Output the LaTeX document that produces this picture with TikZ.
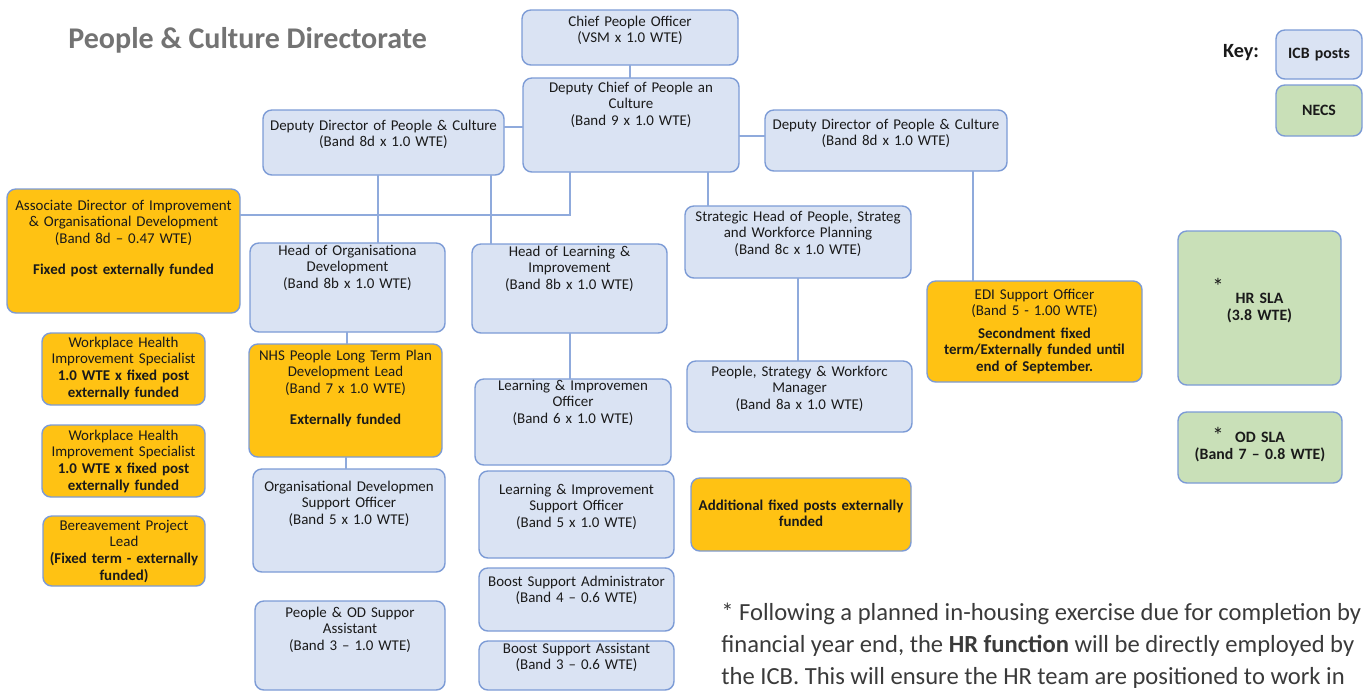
\documentclass[tikz,border=0pt]{standalone}
\usepackage{fontspec}
\setmainfont{Carlito}
\usetikzlibrary{positioning}

\definecolor{icbblue}{HTML}{DAE3F3}
\definecolor{extgold}{HTML}{FFC213}
\definecolor{necsgreen}{HTML}{C9E0B8}
\definecolor{boxline}{HTML}{7C9BD6}
\definecolor{linkblue}{HTML}{8FAADC}
\definecolor{ink}{HTML}{1A1A1A}
\definecolor{titlegray}{HTML}{737373}
\definecolor{notegray}{HTML}{3A3A3A}

\newcommand{\boxfont}{\fontsize{8.5}{9.6}\selectfont}
\newcommand{\slafont}{\fontsize{9}{10.2}\selectfont\bfseries}

\tikzset{
  post/.style={draw=boxline, line width=0.8pt, rounded corners=5pt, inner sep=0pt,
    outer sep=0pt, anchor=north west, align=center, font=\boxfont, text=ink},
  icb/.style={post, fill=icbblue},
  ext/.style={post, fill=extgold},
  necs/.style={post, fill=necsgreen, font=\slafont},
  dims/.style n args={3}{text width=#1*0.02cm, text height=#2*0.02cm, text depth=(#3-#2)*0.02cm},
  star/.style={font=\fontsize{13}{13}\selectfont, text=ink, inner sep=0pt},
  link/.style={draw=linkblue, line width=0.8pt},
}

\begin{document}
\begin{tikzpicture}[x=0.02cm, y=-0.02cm]

\useasboundingbox (0,0) rectangle (1368,691);

\node[anchor=west, inner sep=0pt, font=\fontsize{17.1}{20}\selectfont\bfseries, text=titlegray] (title) at (68,40) {People \& Culture Directorate};

% top of the tree
\node[icb, dims={216}{16}{55}] (cpo) at (522,10) {Chief People Officer\\(VSM x 1.0 WTE)};
\node[icb, dims={216}{14}{94}] (dcpc) at (523,78) {Deputy Chief of People an\\Culture\\(Band 9 x 1.0 WTE)};
\node[icb, dims={241}{20}{65}] (ddl) at (263,110) {Deputy Director of People \& Culture\\(Band 8d x 1.0 WTE)};
\node[icb, dims={242}{19}{61}] (ddr) at (765,110) {Deputy Director of People \& Culture\\(Band 8d x 1.0 WTE)};

\node[ext, dims={233}{21}{124}] (adi) at (7,189) {Associate Director of Improvement\\\& Organisational Development\\(Band 8d – 0.47 WTE)\\[8pt]\textbf{Fixed post externally funded}};
\node[icb, dims={195}{12}{89}] (hod) at (250,243) {Head of Organisationa\\Development\\(Band 8b x 1.0 WTE)};
\node[icb, dims={195}{12}{89}] (hli) at (472,244) {Head of Learning \&\\Improvement\\(Band 8b x 1.0 WTE)};
\node[icb, dims={226}{15}{72}] (shp) at (685,206) {Strategic Head of People, Strateg\\and Workforce Planning\\(Band 8c x 1.0 WTE)};
\node[ext, dims={215}{18}{101}] (edi) at (927,281) {EDI Support Officer\\(Band 5 - 1.00 WTE)\\[3pt]\textbf{Secondment fixed}\\\textbf{term/Externally funded until}\\\textbf{end of September.}};

% externally funded posts on the left
\node[ext, dims={163}{14}{72}] (whs1) at (42,333) {Workplace Health\\Improvement Specialist\\\textbf{1.0 WTE x fixed post}\\\textbf{externally funded}};
\node[ext, dims={163}{15}{72}] (whs2) at (42,425) {Workplace Health\\Improvement Specialist\\\textbf{1.0 WTE x fixed post}\\\textbf{externally funded}};
\node[ext, dims={162}{14}{70}] (bpl) at (43,516) {Bereavement Project\\Lead\\\textbf{(Fixed term - externally}\\\textbf{funded)}};

% organisational development column
\node[ext, dims={193}{16}{113}] (nhs) at (249,344) {NHS People Long Term Plan\\Development Lead\\(Band 7 x 1.0 WTE)\\[8pt]\textbf{Externally funded}};
\node[icb, dims={192}{22}{103}] (odso) at (253,469) {Organisational Developmen\\Support Officer\\(Band 5 x 1.0 WTE)};
\node[icb, dims={190}{16}{89}] (poda) at (255,601) {People \& OD Suppor\\Assistant\\(Band 3 – 1.0 WTE)};

% learning and improvement column
\node[icb, dims={196}{11}{86}] (lio) at (475,379) {Learning \& Improvemen\\Officer\\(Band 6 x 1.0 WTE)};
\node[icb, dims={195}{23}{87}] (liso) at (479,471) {Learning \& Improvement\\Support Officer\\(Band 5 x 1.0 WTE)};
\node[icb, dims={195}{18}{63}] (bsad) at (479,568) {Boost Support Administrator\\(Band 4 – 0.6 WTE)};
\node[icb, dims={195}{12}{49}] (bsas) at (479,641) {Boost Support Assistant\\(Band 3 – 0.6 WTE)};

% workforce planning column
\node[icb, dims={225}{15}{71}] (pswm) at (687,361) {People, Strategy \& Workforc\\Manager\\(Band 8a x 1.0 WTE)};
\node[ext, dims={220}{32}{73}] (afp) at (691,478) {\textbf{Additional fixed posts externally}\\\textbf{funded}};

% NECS service level agreements
\node[necs, dims={163}{72}{154}] (hrsla) at (1178,231) {HR SLA\\(3.8 WTE)};
\node[necs, dims={164}{30}{71}] (odsla) at (1178,412) {OD SLA\\(Band 7 – 0.8 WTE)};
\node[star] (hrstar) at (1218,286) {*};
\node[star] (odstar) at (1218,435) {*};

% key
\node[font=\fontsize{11.5}{13}\selectfont\bfseries, text=ink] (key) at (1241,53) {Key:};
\node[icb, font=\slafont, dims={86}{28}{49}] (keyicb) at (1276,30) {ICB posts};
\node[necs, dims={86}{30}{51}] (keynecs) at (1276,85) {NECS};

% reporting lines
\draw[link] (cpo.south -| 630,0) -- (dcpc.north -| 630,0);
\draw[link] (ddl.east |- 0,127) -- (dcpc.west |- 0,127);
\draw[link] (dcpc.east |- 0,136) -- (ddr.west |- 0,136);
\draw[link] (dcpc.south -| 570,0) |- (adi.east |- 0,215);
\draw[link] (ddl.south -| 378,0) -- (hod.north -| 378,0);
\draw[link] (ddl.south -| 491,0) -- (hli.north -| 491,0);
\draw[link] (dcpc.south -| 708,0) -- (shp.north -| 708,0);
\draw[link] (ddr.south -| 973,0) -- (edi.north -| 973,0);
\draw[link] (shp.south -| 798,0) -- (pswm.north -| 798,0);
\draw[link] (hod.south -| 347,0) -- (nhs.north -| 347,0);
\draw[link] (nhs.south -| 346,0) -- (odso.north -| 346,0);
\draw[link] (hli.south -| 570,0) -- (lio.north -| 570,0);

\node[anchor=north west, align=left, inner sep=0pt, font=\fontsize{14}{18}\selectfont, text=notegray] (note) at (721,603) {* Following a planned in-housing exercise due for completion by\\financial year end, the \textbf{HR function} will be directly employed by\\the ICB. This will ensure the HR team are positioned to work in};

\end{tikzpicture}
\end{document}
